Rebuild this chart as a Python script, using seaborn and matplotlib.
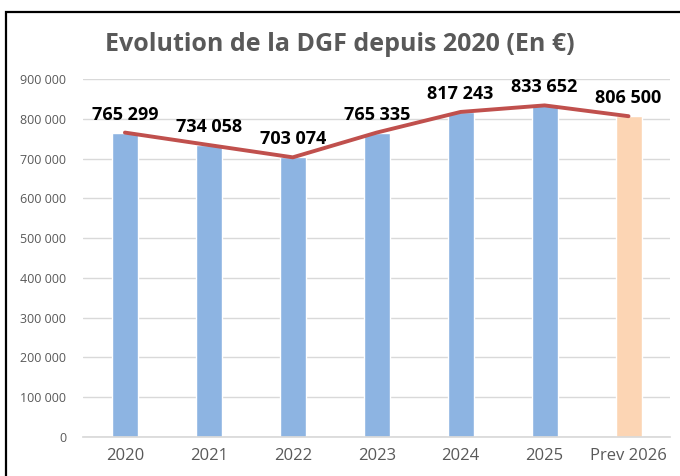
import matplotlib
matplotlib.use("Agg")
import matplotlib.pyplot as plt
import seaborn as sns
import pandas as pd
from matplotlib.patches import Rectangle
from matplotlib.ticker import FuncFormatter

years = ["2020", "2021", "2022", "2023", "2024", "2025", "Prev 2026"]
dgf = [765299, 734058, 703074, 765335, 817243, 833652, 806500]
bar_colors = ["#8DB4E2"] * 6 + ["#FCD5B4"]

df = pd.DataFrame({"annee": years, "dgf": dgf})

sns.set_theme(style="white")
plt.rcParams["font.family"] = ["Open Sans", "DejaVu Sans"]

fig = plt.figure(figsize=(6.8, 4.76), dpi=100)
ax = fig.add_axes([0.122, 0.082, 0.864, 0.752])

sns.barplot(data=df, x="annee", y="dgf", hue="annee", palette=bar_colors,
            saturation=1, width=0.31, legend=False, ax=ax, zorder=2)
sns.lineplot(x=range(len(years)), y=dgf, color="#C0504D", linewidth=2.8,
             ax=ax, zorder=3)

for i, v in enumerate(dgf):
    ax.annotate(f"{v:,}".replace(",", " "), (i, v), xytext=(0, 6.5),
                textcoords="offset points", ha="center", va="bottom",
                fontsize=13, fontweight="bold", color="black", zorder=4)

ax.set_ylim(0, 900000)
ax.set_xlim(-0.5, len(years) - 0.5)
ax.set_yticks(range(0, 900001, 100000))
ax.yaxis.set_major_formatter(FuncFormatter(lambda v, p: f"{int(v):,}".replace(",", " ")))
ax.grid(axis="y", color="#D9D9D9", linewidth=1, zorder=0)
ax.set_axisbelow(True)
for s in ["top", "right", "left"]:
    ax.spines[s].set_visible(False)
ax.spines["bottom"].set_color("#D9D9D9")
ax.tick_params(axis="y", labelsize=9, colors="#595959", length=0, pad=12)
ax.tick_params(axis="x", labelsize=12, colors="#595959", length=0, pad=8)
ax.set_xlabel("")
ax.set_ylabel("")

fig.text(0.5, 0.907, "Evolution de la DGF depuis 2020 (En €)", ha="center",
         va="center", fontsize=18, fontweight="bold", color="#595959")

fig.patches.append(Rectangle((6 / 680, -0.1), 1.2, 1 - 12 / 476 + 0.1,
                             transform=fig.transFigure, fill=False,
                             edgecolor="black", linewidth=1.6))

fig.savefig("out.png", dpi=100)
